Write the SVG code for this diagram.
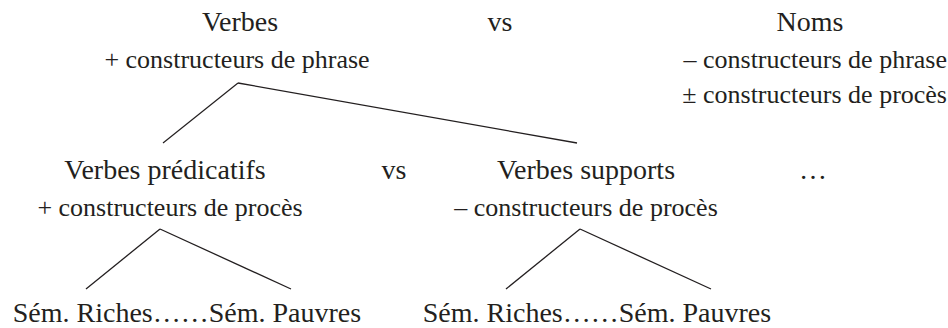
<svg xmlns="http://www.w3.org/2000/svg" width="948" height="328" viewBox="0 0 948 328">
<style>
text{font-family:"Liberation Serif","Times New Roman",serif;fill:#231f20}
.m{font-size:28px;text-anchor:middle}
.s{font-size:26px;text-anchor:middle}
.e{font-size:26px;text-anchor:end}
.c line{stroke:#231f20;stroke-width:1.3}
</style>
<rect width="948" height="328" fill="#fff"/>
<g id="verbes"><text class="m" x="240" y="31">Verbes</text><text class="s" x="237" y="68">+ constructeurs de phrase</text></g>
<g id="vs1"><text class="m" x="500" y="31">vs</text></g>
<g id="noms"><text class="m" x="810" y="31">Noms</text><text class="e" x="947" y="68">– constructeurs de phrase</text><text class="e" x="947" y="103">± constructeurs de procès</text></g>
<g id="vpred"><text class="m" x="165" y="179">Verbes prédicatifs</text><text class="s" x="170" y="216">+ constructeurs de procès</text></g>
<g id="vs2"><text class="m" x="394" y="179">vs</text></g>
<g id="vsup"><text class="m" x="586" y="179">Verbes supports</text><text class="s" x="586" y="216">– constructeurs de procès</text></g>
<g id="etc"><text class="m" x="813" y="179">…</text></g>
<g id="sem1"><text class="m" x="187" y="322" font-size="28.5">Sém. Riches……Sém. Pauvres</text></g>
<g id="sem2"><text class="m" x="597" y="322" font-size="28.5">Sém. Riches……Sém. Pauvres</text></g>
<g class="c" id="connectors">
<line x1="238" y1="83" x2="163" y2="143"/>
<line x1="238" y1="83" x2="577" y2="143"/>
<line x1="160" y1="229" x2="86" y2="289"/>
<line x1="160" y1="229" x2="291" y2="289"/>
<line x1="580" y1="229" x2="506" y2="289"/>
<line x1="580" y1="229" x2="711" y2="289"/>
</g>
</svg>
